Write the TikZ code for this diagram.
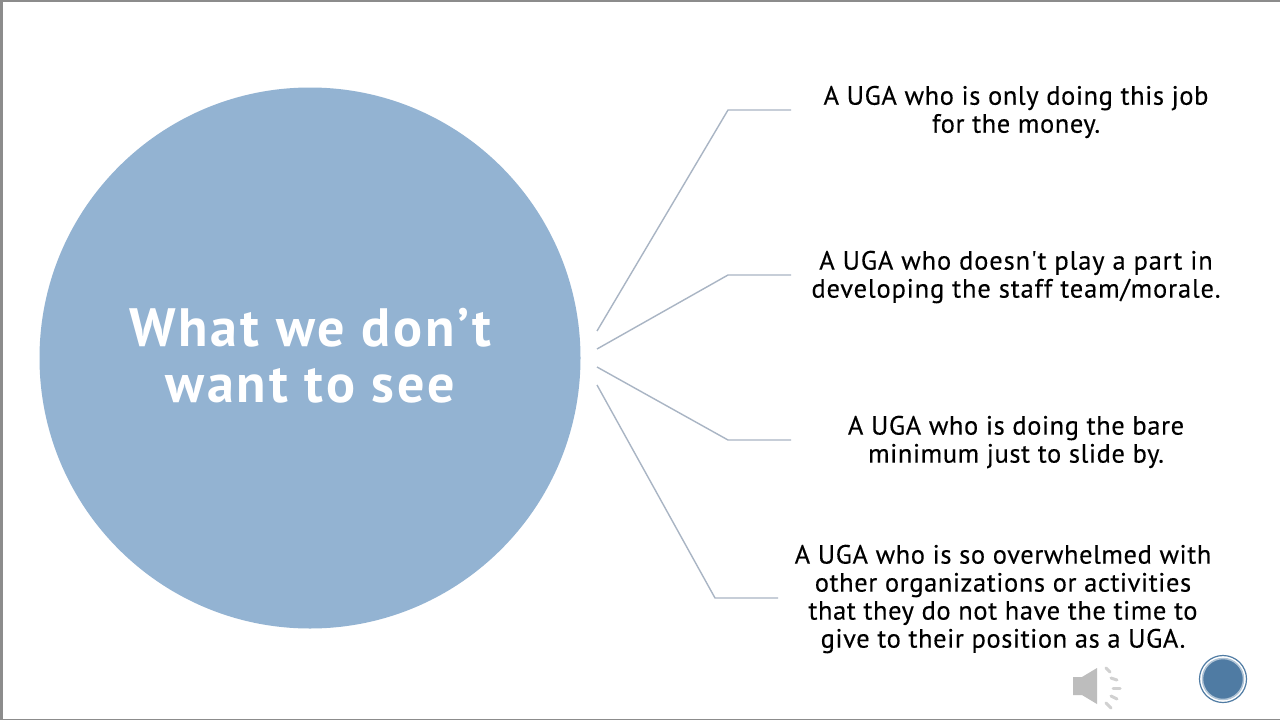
\documentclass[tikz,border=0pt]{standalone}
\usepackage{fontspec}
\setmainfont{PT Sans}
\newfontfamily\itemfont[LetterSpace=2.2,FakeBold=0.25]{PT Sans}
\newfontfamily\itemwide[LetterSpace=3.2,FakeBold=0.25]{PT Sans}
\newfontfamily\hubfont[LetterSpace=5.4]{PT Sans}
\definecolor{circ}{HTML}{93B3D2}
\definecolor{linec}{HTML}{A9B5C4}
\definecolor{frame}{HTML}{8C8C8C}
\definecolor{badge}{HTML}{4F7BA3}
\definecolor{spk}{HTML}{BDBDBD}
\tikzset{
  x=1pt,y=-1pt,
  big/.style={circle,fill=circ,minimum size=541pt,inner sep=0pt},
  bigtext/.style={inner sep=0pt,text=white,align=center,font=\hubfont\bfseries\fontsize{54}{56}\selectfont},
  item/.style={align=center,text=black,inner sep=0pt,font=\itemfont\fontsize{26.5}{28}\selectfont},
  itemw/.style={item,font=\itemwide\fontsize{26.5}{28}\selectfont},
  conn/.style={draw=linec,line width=1.4pt,line join=round},
  wave/.style={draw=spk!70,line width=3pt,line cap=round}
}
\begin{document}
\begin{tikzpicture}
\useasboundingbox (0,0) rectangle (1280,720);
\fill[white] (0,0) rectangle (1280,720);
\draw[frame,line width=3pt] (0,0) -- (1280,0);
\draw[frame,line width=5pt] (0,0) -- (0,720);
\draw[frame,line width=3pt] (0,720) -- (1280,720);
\node[big] (hub) at (310,358) {};
\node[bigtext] (hubtext) at (310,356) {What we don’t\\want to see};
\node[item] (t1) at (1016,112) {A UGA who is only doing this job\\for the money.};
\node[itemw] (t2) at (1016,277) {A UGA who doesn't play a part in\\developing the staff team/morale.};
\node[item] (t3) at (1016,442) {A UGA who is doing the bare\\minimum just to slide by.};
\node[item] (t4) at (1003,599) {A UGA who is so overwhelmed with\\other organizations or activities\\that they do not have the time to\\give to their position as a UGA.};
\coordinate (s1) at (597,331);
\coordinate (s2) at (597,349);
\coordinate (s3) at (597,367);
\coordinate (s4) at (597,385);
\coordinate (b1) at (728,110);
\coordinate (b2) at (728,275);
\coordinate (b3) at (728,440);
\coordinate (b4) at (715,598);
\coordinate (e1) at (791,110);
\coordinate (e2) at (791,275);
\coordinate (e3) at (791,440);
\coordinate (e4) at (778,598);
\draw[conn] (s1) -- (b1) -- (e1);
\draw[conn] (s2) -- (b2) -- (e2);
\draw[conn] (s3) -- (b3) -- (e3);
\draw[conn] (s4) -- (b4) -- (e4);
% speaker icon
\fill[spk] (1073,677) -- (1082,677) -- (1097,668) -- (1097,704) -- (1082,695) -- (1073,695) -- cycle;
\draw[wave] (1106,668) -- (1110,672);
\draw[wave] (1111,678) -- (1117,680);
\draw[wave] (1113,688) -- (1120,688);
\draw[wave] (1111,696) -- (1117,699);
\draw[wave] (1106,703) -- (1111,708);
% badge
\node[circle,fill=badge,draw=badge!45!white,line width=1.5pt,minimum size=41pt,inner sep=0pt] (bd) at (1223,679) {};
\draw[badge,line width=1.2pt] (1223,679) circle (23.5);
\end{tikzpicture}
\end{document}
